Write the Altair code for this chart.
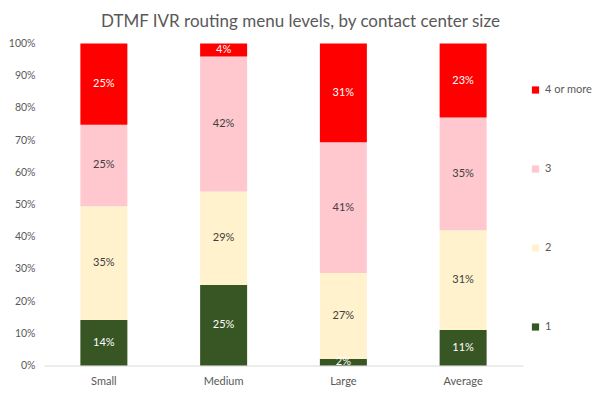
import altair as alt
import pandas as pd

sizes = ["Small", "Medium", "Large", "Average"]
levels = ["1", "2", "3", "4 or more"]
level_order = [1, 2, 3, 4]
v1 = [14, 25, 2, 11]
v2 = [35, 29, 27, 31]
v3 = [25, 42, 41, 35]
v4 = [25, 4, 31, 23]
colors = ["#375623", "#FFF2CC", "#FFC7CE", "#FF0000"]
label_colors = ["#FFFFFF", "#404040", "#404040", "#FFFFFF"]
legend_order = ["4 or more", "3", "2", "1"]
y_ticks = [0, 0.1, 0.2, 0.3, 0.4, 0.5, 0.6, 0.7, 0.8, 0.9, 1.0]

rows = []
for lv, od, vals in zip(levels, level_order, [v1, v2, v3, v4]):
    for s, v in zip(sizes, vals):
        rows.append({"size": s, "level": lv, "ord": od, "value": v, "label": f"{v}%"})
df = pd.DataFrame(rows)

FONT = "Lato"

base = alt.Chart(df).transform_stack(
    stack="value", groupby=["size"], as_=["y0", "y1"], offset="normalize",
    sort=[alt.SortField("ord", order="ascending")]
).transform_calculate(mid="(datum.y0 + datum.y1) / 2")

xaxis = alt.Axis(labelAngle=0, ticks=False, domainColor="#D9D9D9",
                 labelColor="#595959", labelFont=FONT, labelFontSize=11,
                 labelPadding=10)
yaxis = alt.Axis(format="%", values=y_ticks, tickCount=11, grid=False, labelOverlap=False,
                 domain=False, ticks=False, labelColor="#595959",
                 labelFont=FONT, labelFontSize=10.5, labelPadding=9)
xscale = alt.Scale(paddingInner=0.61, paddingOuter=0.305)
yscale = alt.Scale(domain=[0, 1], nice=False)

bars = base.mark_bar(size=47).encode(
    x=alt.X("size:N", sort=sizes, title=None, scale=xscale, axis=xaxis),
    y=alt.Y("y0:Q", title=None, scale=yscale, axis=yaxis),
    y2="y1:Q",
    color=alt.Color("level:N", scale=alt.Scale(domain=levels, range=colors),
                    legend=alt.Legend(title=None, orient="none", legendX=486, legendY=41,
                                      values=legend_order,
                                      symbolType="square", symbolSize=52,
                                      symbolStrokeWidth=0,
                                      rowPadding=67, labelFont=FONT, labelFontSize=11,
                                      labelColor="#595959", padding=0, labelOffset=4)),
)

text = base.mark_text(font=FONT, fontSize=11).encode(
    x=alt.X("size:N", sort=sizes, title=None, scale=xscale, axis=xaxis),
    y=alt.Y("mid:Q", title=None, scale=yscale, axis=yaxis),
    text="label:N",
    color=alt.Color("level:N", scale=alt.Scale(domain=levels, range=label_colors), legend=None),
)

chart = alt.layer(bars, text).resolve_scale(color="independent").properties(
    width=479, height=322,
    autosize=alt.AutoSizeParams(type="none"),
    padding={"left": 36, "top": 35.5, "right": 71, "bottom": 30},
    title=alt.Title("DTMF IVR routing menu levels, by contact center size",
                    font=FONT, fontSize=17, fontWeight="normal", color="#595959",
                    anchor="middle", dx=17, offset=8),
).configure_view(stroke=None)

chart.save("out.html", embed_options={"renderer": "svg", "actions": False})
